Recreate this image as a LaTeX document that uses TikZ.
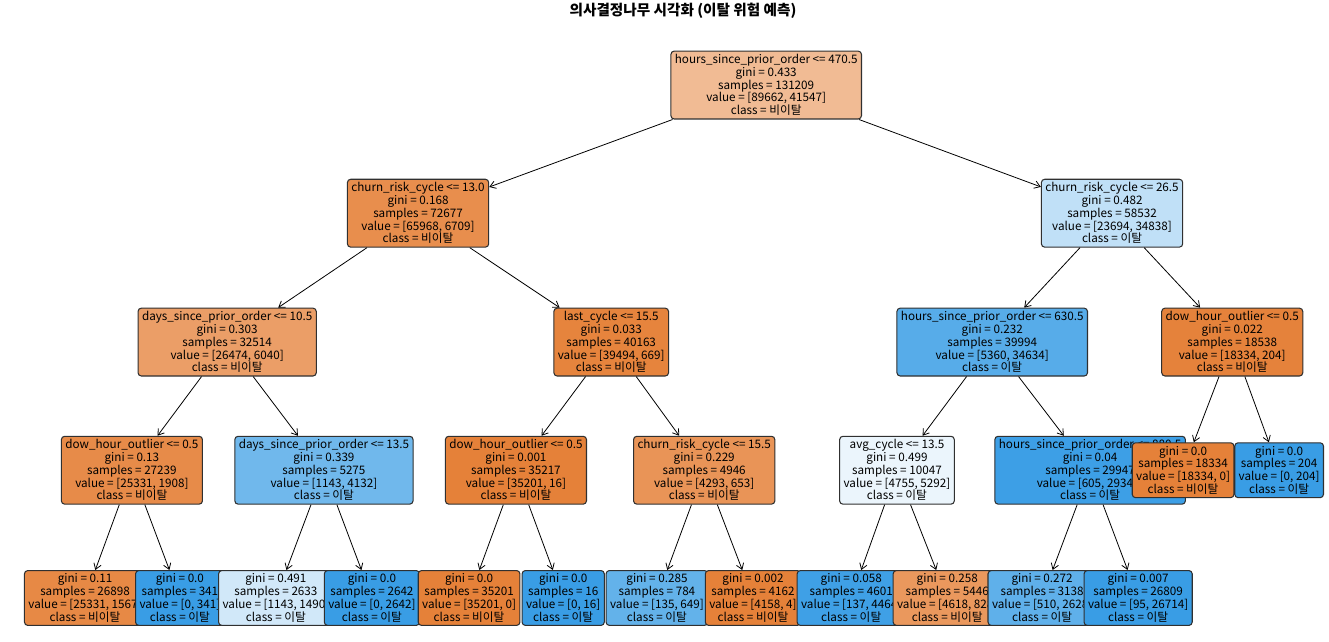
\documentclass[tikz,border=0pt]{standalone}
\usepackage{fontspec}
\setmainfont{Noto Sans CJK KR}
\usepackage{xcolor}
\usetikzlibrary{arrows.meta}
\definecolor{cls0}{HTML}{E58139}
\definecolor{cls1}{HTML}{399DE5}
\definecolor{rim}{HTML}{303030}
\tikzset{
  split/.style={draw=rim, rounded corners=2.5pt, line width=0.8pt, align=center, inner xsep=3pt, inner ysep=2.5pt, font=\fontsize{8.8}{9.6}\selectfont},
  leaf/.style={split},
  edge/.style={-{Straight Barb[length=1.5mm,width=2mm]}, line width=0.6pt},
}
\newcommand{\stats}[4]{gini = #1\\samples = #2\\value = [#3]\\class = #4}

\begin{document}
\begin{tikzpicture}
  \useasboundingbox (0,0) rectangle (35.16,-16.96);
  \node[font=\fontsize{11}{13}\selectfont\bfseries] (title) at (18.07,-0.28) {의사결정나무 시각화 (이탈 위험 예측)};

  % level 0 and the left half, in drawing order
  \node[split, fill=cls0!54] (root) at (20.27,-2.25) {hours\_since\_prior\_order <= 470.5\\\stats{0.433}{131209}{89662, 41547}{비이탈}};
  \node[split, fill=cls0!90] (crc13) at (11.06,-5.64) {churn\_risk\_cycle <= 13.0\\\stats{0.168}{72677}{65968, 6709}{비이탈}};
  \node[split, fill=cls0!77] (dspo10) at (6.01,-9.05) {days\_since\_prior\_order <= 10.5\\\stats{0.303}{32514}{26474, 6040}{비이탈}};
  \node[split, fill=cls0!92] (dow1) at (3.49,-12.44) {dow\_hour\_outlier <= 0.5\\\stats{0.13}{27239}{25331, 1908}{비이탈}};
  \node[leaf, fill=cls0!94] (lf1) at (2.25,-15.82) {\stats{0.11}{26898}{25331, 1567}{비이탈}};
  \node[leaf, fill=cls1] (lf2) at (4.76,-15.82) {\stats{0.0}{341}{0, 341}{이탈}};
  \node[split, fill=cls1!72] (dspo13) at (8.57,-12.44) {days\_since\_prior\_order <= 13.5\\\stats{0.339}{5275}{1143, 4132}{이탈}};
  \node[leaf, fill=cls1!23] (lf3) at (7.30,-15.82) {\stats{0.491}{2633}{1143, 1490}{이탈}};
  \node[leaf, fill=cls1] (lf4) at (9.84,-15.82) {\stats{0.0}{2642}{0, 2642}{이탈}};
  \node[split, fill=cls0!98] (lastc) at (16.17,-9.05) {last\_cycle <= 15.5\\\stats{0.033}{40163}{39494, 669}{비이탈}};
  \node[split, fill=cls0] (dow2) at (13.65,-12.44) {dow\_hour\_outlier <= 0.5\\\stats{0.001}{35217}{35201, 16}{비이탈}};
  \node[leaf, fill=cls0] (lf5) at (12.41,-15.82) {\stats{0.0}{35201}{35201, 0}{비이탈}};
  \node[leaf, fill=cls1] (lf6) at (14.90,-15.82) {\stats{0.0}{16}{0, 16}{이탈}};
  \node[split, fill=cls0!85] (crc15) at (18.63,-12.44) {churn\_risk\_cycle <= 15.5\\\stats{0.229}{4946}{4293, 653}{비이탈}};
  \node[leaf, fill=cls1!79] (lf7) at (17.38,-15.82) {\stats{0.285}{784}{135, 649}{이탈}};
  \node[leaf, fill=cls0] (lf8) at (19.92,-15.82) {\stats{0.002}{4162}{4158, 4}{비이탈}};

  % right half
  \node[split, fill=cls1!32] (crc26) at (29.42,-5.64) {churn\_risk\_cycle <= 26.5\\\stats{0.482}{58532}{23694, 34838}{이탈}};
  \node[split, fill=cls1!85] (hspo630) at (26.25,-9.05) {hours\_since\_prior\_order <= 630.5\\\stats{0.232}{39994}{5360, 34634}{이탈}};
  \node[split, fill=cls1!10] (avgc) at (23.73,-12.44) {avg\_cycle <= 13.5\\\stats{0.499}{10047}{4755, 5292}{이탈}};
  \node[leaf, fill=cls1!97] (lf9) at (22.52,-15.82) {\stats{0.058}{4601}{137, 4464}{이탈}};
  \node[leaf, fill=cls0!82] (lf10) at (25.06,-15.82) {\stats{0.258}{5446}{4618, 828}{비이탈}};
  \node[split, fill=cls1!98] (hspo880) at (28.84,-12.44) {hours\_since\_prior\_order <= 880.5\\\stats{0.04}{29947}{605, 29342}{이탈}};
  \node[leaf, fill=cls1!81] (lf11) at (27.57,-15.82) {\stats{0.272}{3138}{510, 2628}{이탈}};
  \node[leaf, fill=cls1] (lf12) at (30.11,-15.82) {\stats{0.007}{26809}{95, 26714}{이탈}};
  \node[split, fill=cls0!99] (dowR) at (32.60,-9.05) {dow\_hour\_outlier <= 0.5\\\stats{0.022}{18538}{18334, 204}{비이탈}};
  \node[leaf, fill=cls0] (lf13) at (31.30,-12.44) {\stats{0.0}{18334}{18334, 0}{비이탈}};
  \node[leaf, fill=cls1] (lf14) at (33.84,-12.44) {\stats{0.0}{204}{0, 204}{이탈}};

  \draw[edge] (root) -- (crc13);
  \draw[edge] (root) -- (crc26);
  \draw[edge] (crc13) -- (dspo10);
  \draw[edge] (crc13) -- (lastc);
  \draw[edge] (dspo10) -- (dow1);
  \draw[edge] (dspo10) -- (dspo13);
  \draw[edge] (dow1) -- (lf1);
  \draw[edge] (dow1) -- (lf2);
  \draw[edge] (dspo13) -- (lf3);
  \draw[edge] (dspo13) -- (lf4);
  \draw[edge] (lastc) -- (dow2);
  \draw[edge] (lastc) -- (crc15);
  \draw[edge] (dow2) -- (lf5);
  \draw[edge] (dow2) -- (lf6);
  \draw[edge] (crc15) -- (lf7);
  \draw[edge] (crc15) -- (lf8);
  \draw[edge] (crc26) -- (hspo630);
  \draw[edge] (crc26) -- (dowR);
  \draw[edge] (hspo630) -- (avgc);
  \draw[edge] (hspo630) -- (hspo880);
  \draw[edge] (avgc) -- (lf9);
  \draw[edge] (avgc) -- (lf10);
  \draw[edge] (hspo880) -- (lf11);
  \draw[edge] (hspo880) -- (lf12);
  \draw[edge] (dowR) -- (lf13);
  \draw[edge] (dowR) -- (lf14);
\end{tikzpicture}
\end{document}
